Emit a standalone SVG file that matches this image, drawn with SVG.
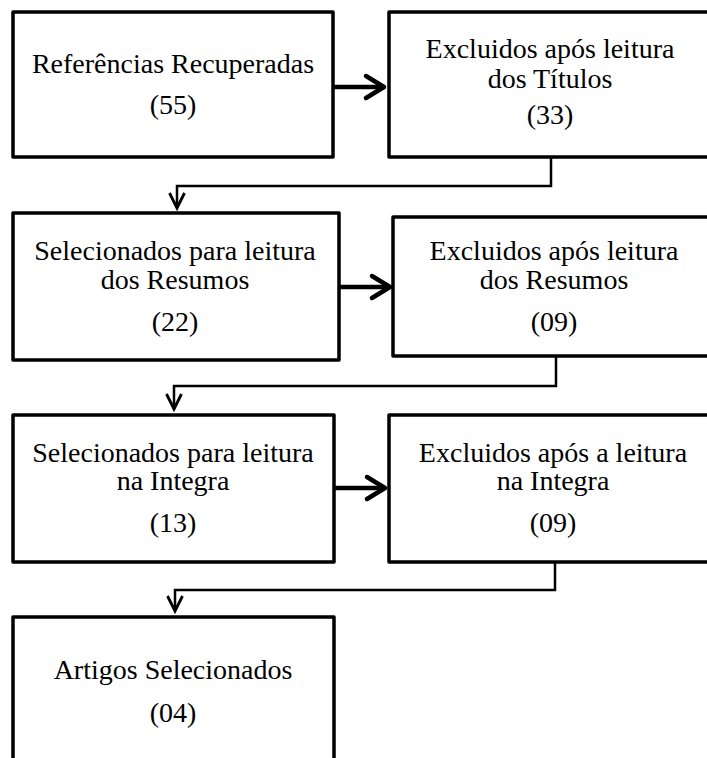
<svg xmlns="http://www.w3.org/2000/svg" width="707" height="758" viewBox="0 0 707 758">
<style>
.box{fill:#fff;stroke:#000;stroke-width:3.5;stroke-linejoin:round}
.t{font-family:"Liberation Serif","Times New Roman",serif;font-size:28px;fill:#000;text-anchor:middle}
.h{fill:none;stroke:#000;stroke-width:4.5}
.hh{fill:none;stroke:#000;stroke-width:4.5;stroke-linecap:round;stroke-linejoin:round}
.e{fill:none;stroke:#000;stroke-width:2.5}
.eh{fill:none;stroke:#000;stroke-width:2.8;stroke-linejoin:miter}
</style>
<rect width="707" height="758" fill="#fff"/>
<g id="connectors">
  <path class="h" d="M333 87 H382"/>
  <path class="hh" d="M366 76 L384 87 L366 98"/>
  <path class="h" d="M339 287 H388"/>
  <path class="hh" d="M372 276 L390 287 L372 298"/>
  <path class="h" d="M334 488 H383"/>
  <path class="hh" d="M367 477 L385 488 L367 499"/>
  <path class="e" d="M551 157 V186 H177 V208"/>
  <path class="eh" d="M169.5 193 L177 208 L184.5 193"/>
  <path class="e" d="M556 356 V386 H174 V409"/>
  <path class="eh" d="M166.5 394 L174 409 L181.5 394"/>
  <path class="e" d="M555 562 V590 H175 V611"/>
  <path class="eh" d="M167.5 596 L175 611 L182.5 596"/>
</g>
<g id="n1">
  <rect class="box" x="13" y="12" width="320" height="145"/>
  <text class="t" x="173" y="73">Referências Recuperadas</text>
  <text class="t" x="173" y="114">(55)</text>
</g>
<g id="n2">
  <rect class="box" x="389" y="12" width="340" height="145"/>
  <text class="t" x="550" y="58">Excluidos após leitura</text>
  <text class="t" x="550" y="88">dos Títulos</text>
  <text class="t" x="550" y="124">(33)</text>
</g>
<g id="n3">
  <rect class="box" x="13" y="213" width="326" height="147"/>
  <text class="t" x="175" y="260">Selecionados para leitura</text>
  <text class="t" x="175" y="289">dos Resumos</text>
  <text class="t" x="175" y="331">(22)</text>
</g>
<g id="n4">
  <rect class="box" x="393" y="217" width="340" height="139"/>
  <text class="t" x="554" y="260">Excluidos após leitura</text>
  <text class="t" x="554" y="289">dos Resumos</text>
  <text class="t" x="554" y="331">(09)</text>
</g>
<g id="n5">
  <rect class="box" x="13" y="415" width="321" height="147"/>
  <text class="t" x="173" y="462">Selecionados para leitura</text>
  <text class="t" x="173" y="490">na Integra</text>
  <text class="t" x="173" y="532">(13)</text>
</g>
<g id="n6">
  <rect class="box" x="389" y="415" width="340" height="147"/>
  <text class="t" x="553" y="462">Excluidos após a leitura</text>
  <text class="t" x="553" y="490">na Integra</text>
  <text class="t" x="553" y="532">(09)</text>
</g>
<g id="n7">
  <rect class="box" x="13" y="617" width="321" height="160"/>
  <text class="t" x="173" y="679">Artigos Selecionados</text>
  <text class="t" x="173" y="722">(04)</text>
</g>
</svg>
